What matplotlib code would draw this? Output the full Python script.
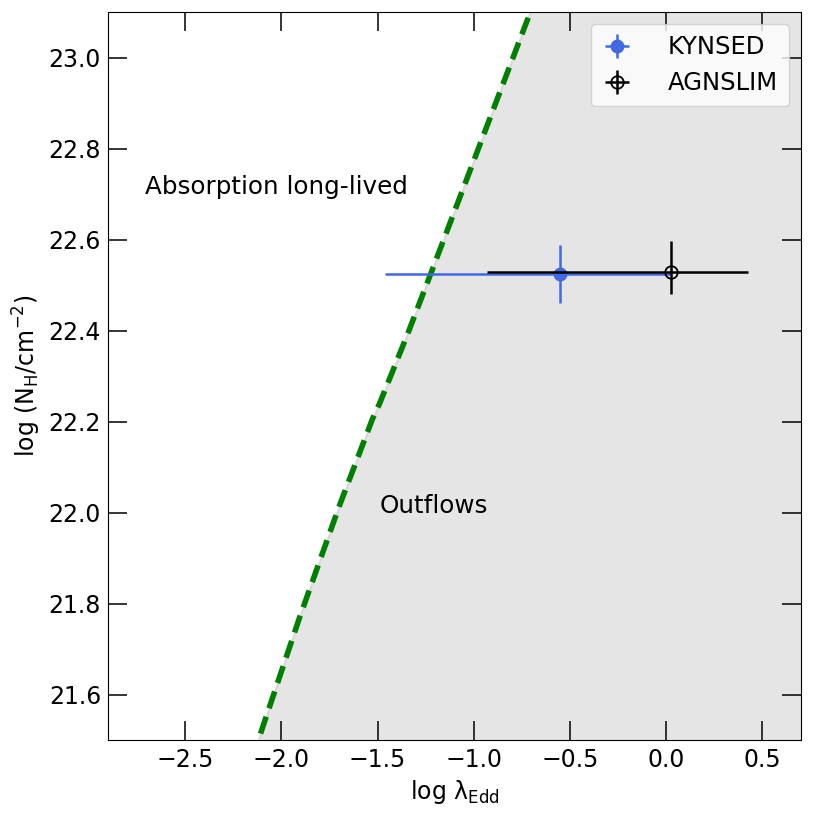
import matplotlib.pyplot as plt
import numpy as np

# curva do limite efetivo de Eddington
limite_x = [-2.17, -2.115, -1.906, -1.698, -1.526, -1.49, -1.344, -1.219, -0.708, -0.66]
limite_y = [21.40, 21.505, 21.768, 22.015, 22.206, 22.239, 22.392, 22.53, 23.098, 23.16]

# pontos medidos
kynsed_x = [-0.55]
kynsed_y = [22.525]
kynsed_xerr = [[0.91], [0.57]]
kynsed_yerr = [[0.065], [0.063]]

agnslim_x = [0.025]
agnslim_y = [22.53]
agnslim_xerr = [[0.955], [0.40]]
agnslim_yerr = [[0.05], [0.068]]

plt.rcParams['font.family'] = 'DejaVu Sans'

fig = plt.figure(figsize=(8.14, 8.15), dpi=100)
ax = fig.add_axes([0.1327, 0.092, 0.8513, 0.893])

# regiao de outflows
ax.fill_betweenx(limite_y, limite_x, 1.0, color='#e5e5e5',
                 edgecolor='#d8d8d8', linewidth=1.5, zorder=0)
ax.plot(limite_x, limite_y, color='green', linestyle='--',
        linewidth=4, dashes=(3.2, 1.6), zorder=2)

ax.errorbar(kynsed_x, kynsed_y, xerr=kynsed_xerr, yerr=kynsed_yerr,
            fmt='o', color='royalblue', ms=9, elinewidth=1.8,
            label='KYNSED', zorder=3)
ax.errorbar(agnslim_x, agnslim_y, xerr=agnslim_xerr, yerr=agnslim_yerr,
            fmt='o', color='black', mfc='none', ms=9, elinewidth=1.8,
            mew=1.3, label='AGNSLIM', zorder=4)

ax.text(-2.71, 22.70, 'Absorption long-lived', fontsize=17.7)
ax.text(-1.49, 21.998, 'Outflows', fontsize=17.7)

ax.set_xlim(-2.9, 0.7)
ax.set_ylim(21.5, 23.1)
ax.set_xticks([-2.5, -2.0, -1.5, -1.0, -0.5, 0.0, 0.5])
ax.set_yticks([21.6, 21.8, 22.0, 22.2, 22.4, 22.6, 22.8, 23.0])
ax.tick_params(direction='in', length=14, width=1.1, labelsize=17,
               top=True, right=True)
ax.tick_params(axis='x', pad=6)
ax.tick_params(axis='y', pad=5)

ax.set_xlabel('log λ$_{\\rm Edd}$', fontsize=17)
ax.set_ylabel(r'log (N$_{\rm H}$/cm$^{-2}$)', fontsize=17)

ax.legend(loc='upper right', fontsize=17.5, handlelength=1.2,
          handletextpad=1.5, borderpad=0.45)

plt.savefig('out.png', dpi=100)
